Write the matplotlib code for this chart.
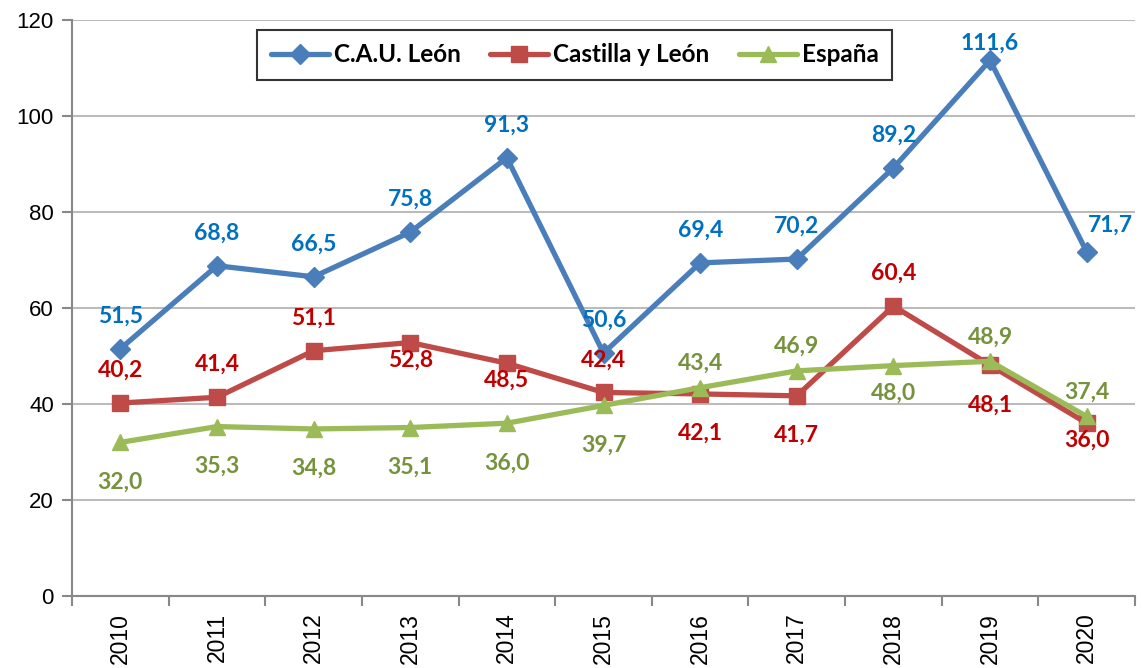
import matplotlib.pyplot as plt
from matplotlib.ticker import FixedLocator

years = ['2010', '2011', '2012', '2013', '2014', '2015', '2016', '2017', '2018', '2019', '2020']
cau_leon = [51.5, 68.8, 66.5, 75.8, 91.3, 50.6, 69.4, 70.2, 89.2, 111.6, 71.7]
castilla = [40.2, 41.4, 51.1, 52.8, 48.5, 42.4, 42.1, 41.7, 60.4, 48.1, 36.0]
espana = [32.0, 35.3, 34.8, 35.1, 36.0, 39.7, 43.4, 46.9, 48.0, 48.9, 37.4]

# label placement codes: a/n/t above (far, near, tight), b/m/c below (far, mid, close), r above-right
cau_pos = ['a', 'a', 'a', 'a', 'a', 'a', 'a', 'a', 'a', 't', 'r']
cyl_pos = ['a', 'a', 'a', 'c', 'c', 'a', 'b', 'b', 'a', 'b', 'c']
esp_pos = ['b', 'b', 'b', 'b', 'b', 'b', 'n', 'n', 'm', 'n', 'n']

offsets = {
    'a': (0, 16, 'center', 'bottom'),
    'n': (0, 10, 'center', 'bottom'),
    't': (0, 5, 'center', 'bottom'),
    'b': (0, -21, 'center', 'top'),
    'm': (0, -12, 'center', 'top'),
    'c': (0, -5, 'center', 'top'),
    'r': (1, 19, 'left', 'center'),
}

plt.rcParams['font.family'] = ['Liberation Sans', 'DejaVu Sans']

fig = plt.figure(figsize=(11.42, 6.68), dpi=100)
ax = fig.add_axes([72 / 1142, 72 / 668, 1063 / 1142, 576 / 668])

x = list(range(len(years)))
series = [
    ('C.A.U. León', cau_leon, cau_pos, '#4A7EBB', '#0070C0', 'D', 10),
    ('Castilla y León', castilla, cyl_pos, '#BE4B48', '#C00000', 's', 12),
    ('España', espana, esp_pos, '#9BBB59', '#76923C', '^', 12),
]

for name, vals, pos, lc, tc, mk, ms in series:
    ax.plot(x, vals, color=lc, lw=3.8, marker=mk, markersize=ms, label=name,
            solid_capstyle='round', zorder=3)
    for xi, v, p in zip(x, vals, pos):
        dx, dy, ha, va = offsets[p]
        ax.annotate(f'{v:.1f}'.replace('.', ','), (xi, v), xytext=(dx, dy),
                    textcoords='offset points', ha=ha, va=va, color=tc,
                    fontsize=16.5, fontweight='bold', family=['Lato', 'DejaVu Sans'],
                    zorder=4, annotation_clip=False)

ax.set_xlim(-0.5, len(years) - 0.5)
ax.set_ylim(0, 120)
ax.set_yticks(range(0, 121, 20))
ax.set_xticks(x)
ax.set_xticklabels(years, rotation=90, fontsize=16.5)
ax.tick_params(axis='x', which='major', length=0, pad=12)
ax.xaxis.set_minor_locator(FixedLocator([i - 0.5 for i in range(len(years) + 1)]))
ax.tick_params(axis='x', which='minor', length=7, color='#888888', width=1.5)
ax.tick_params(axis='y', labelsize=16, length=7, color='#888888', width=1.5, pad=6)
ax.grid(axis='y', color='#BBBBBB', lw=1.5)
ax.set_axisbelow(True)
for s in ['top', 'right']:
    ax.spines[s].set_visible(False)
for s in ['left', 'bottom']:
    ax.spines[s].set_color('#888888')
    ax.spines[s].set_linewidth(1.5)

leg = ax.legend(loc='upper center', bbox_to_anchor=(0.473, 0.983), ncol=3,
                frameon=True, fancybox=False, edgecolor='black',
                prop={'family': ['Lato', 'DejaVu Sans'], 'weight': 'bold', 'size': 17.5},
                handlelength=2.4, handletextpad=0.2, columnspacing=1.2,
                borderpad=0.55, borderaxespad=0)
leg.get_frame().set_linewidth(1.5)

fig.savefig('out.png', dpi=100)
